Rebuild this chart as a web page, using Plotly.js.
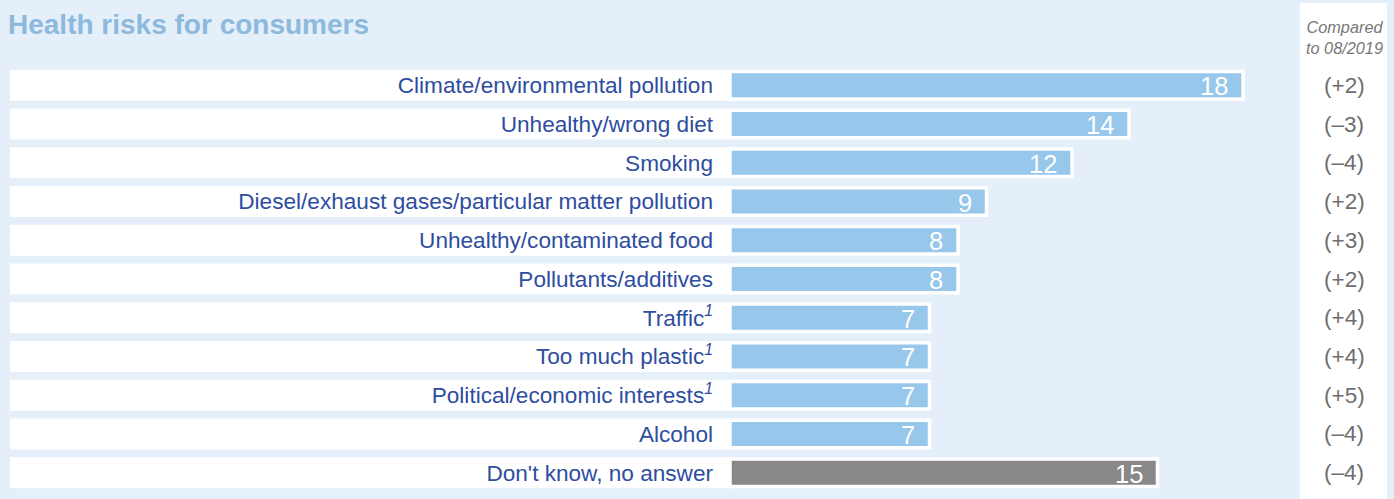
<!DOCTYPE html>
<html>
<head>
<meta charset="utf-8">
<script src="https://cdn.plot.ly/plotly-3.0.1.min.js"></script>
<style>
  html, body { margin: 0; padding: 0; background: #e5eff9; }
  #chart { width: 1394px; height: 499px; }
</style>
</head>
<body>
<div id="chart"></div>
<script>
// ---- data ----
const categories = [
  "Climate/environmental pollution",
  "Unhealthy/wrong diet",
  "Smoking",
  "Diesel/exhaust gases/particular matter pollution",
  "Unhealthy/contaminated food",
  "Pollutants/additives",
  "Traffic<sup><i>1</i></sup>",
  "Too much plastic<sup><i>1</i></sup>",
  "Political/economic interests<sup><i>1</i></sup>",
  "Alcohol",
  "Don't know, no answer"
];
const values = [18, 14, 12, 9, 8, 8, 7, 7, 7, 7, 15];
const changes = ["(+2)", "(–3)", "(–4)", "(+2)", "(+3)", "(+2)", "(+4)", "(+4)", "(+5)", "(–4)", "(–4)"];
const isNoAnswer = [false, false, false, false, false, false, false, false, false, false, true];
const compareHeader = "Compared<br>to 08/2019";
const chartTitle = "Health risks for consumers";

// ---- styles ----
const BG = "#e5eff9";
const BLUE = "#97c7eb";
const GREY = "#888888";
const LABEL = "#2e4d9e";
const FONT = "Liberation Sans, Arial, Helvetica, sans-serif";

const W = 1394, H = 499;
const margin = {l: 730, r: 0, t: 66, b: 7, pad: 0};
const plotW = W - margin.l - margin.r;
const toPaperX = px => (px - margin.l) / plotW;
const plotH = H - margin.t - margin.b;
const toPaperY = py => 1 - (py - margin.t) / plotH;

const idx = categories.map((_, i) => i);

const trace = {
  type: "bar",
  orientation: "h",
  y: idx,
  x: values,
  width: 0.71,
  marker: {
    color: isNoAnswer.map(g => g ? GREY : BLUE),
    line: {color: "#ffffff", width: 3.5}
  },
  hoverinfo: "skip",
  showlegend: false
};

const shapes = [];
// white row backgrounds behind labels
idx.forEach(i => {
  shapes.push({
    type: "rect", layer: "below",
    xref: "paper", yref: "y",
    x0: toPaperX(10), x1: toPaperX(731),
    y0: i - 0.4, y1: i + 0.4,
    fillcolor: "#ffffff", line: {width: 0}
  });
});
// right comparison panel
shapes.push({
  type: "rect", layer: "below",
  xref: "paper", yref: "paper",
  x0: toPaperX(1300), x1: toPaperX(1387),
  y0: toPaperY(510), y1: toPaperY(3),
  fillcolor: "#ffffff", line: {width: 0}
});

const annotations = [];
// value labels inside bars
idx.forEach(i => {
  annotations.push({
    xref: "x", yref: "y", x: values[i], y: i,
    xanchor: "right", yanchor: "middle", xshift: -13, yshift: -1,
    text: String(values[i]), showarrow: false,
    font: {family: FONT, size: 25.5, color: "#ffffff"}
  });
});
// comparison values
idx.forEach(i => {
  annotations.push({
    xref: "paper", yref: "y", x: toPaperX(1344), y: i,
    xanchor: "center", yanchor: "middle",
    text: changes[i], showarrow: false,
    font: {family: FONT, size: 22.5, color: "#6e6e6e"}
  });
});
// comparison header
annotations.push({
  xref: "paper", yref: "paper", x: toPaperX(1344), y: toPaperY(38),
  xanchor: "center", yanchor: "middle",
  text: "<i>" + compareHeader + "</i>", showarrow: false,
  font: {family: FONT, size: 16.3, color: "#777777"}
});

const layout = {
  width: W, height: H,
  margin: margin,
  paper_bgcolor: BG,
  plot_bgcolor: BG,
  title: {
    text: "<b>" + chartTitle + "</b>",
    x: 8 / W, xanchor: "left", xref: "container",
    y: 1 - 24 / H, yanchor: "middle", yref: "container",
    font: {family: FONT, size: 28, color: "#8cb9dd"}
  },
  xaxis: {
    range: [0, plotW / 28.5],
    showgrid: false, zeroline: false, showticklabels: false, showline: false, fixedrange: true
  },
  yaxis: {
    range: [categories.length - 0.5, -0.5],
    tickmode: "array",
    tickvals: idx,
    ticktext: categories,
    ticks: "",
    ticklabelstandoff: 16,
    showgrid: false, zeroline: false, showline: false, fixedrange: true,
    tickfont: {family: FONT, size: 22.6, color: LABEL}
  },
  shapes: shapes,
  annotations: annotations,
  bargap: 0.29,
  showlegend: false
};

Plotly.newPlot("chart", [trace], layout, {displayModeBar: false, staticPlot: true});
</script>
</body>
</html>
